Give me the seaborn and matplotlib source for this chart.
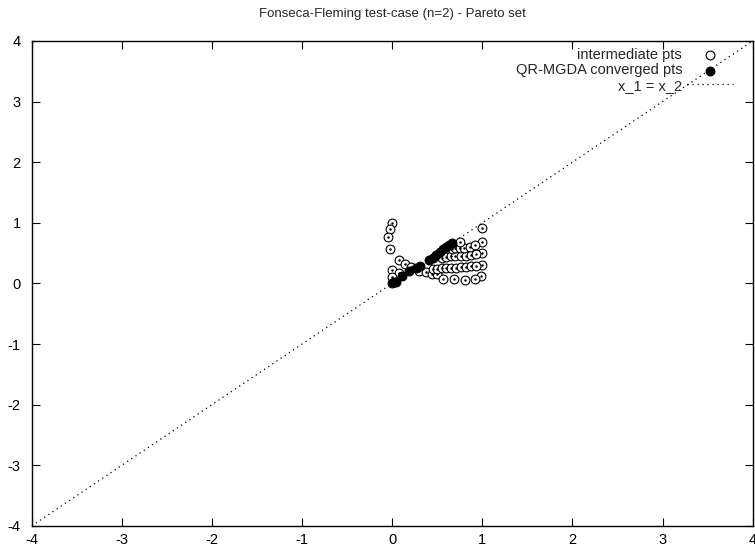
import matplotlib
matplotlib.use("Agg")
import matplotlib.pyplot as plt
import pandas as pd
import seaborn as sns

# intermediate points of the descent
inter_x = [0.00, -0.03, -0.05, -0.02, 0.07, 0.00, 0.14, 0.08, 0.00, 0.21, 0.30, 0.37, 0.44, 0.50,
           1.00, 1.00, 1.00, 1.00, 0.99,
           0.56, 0.69, 0.81, 0.92,
           0.45, 0.50, 0.55, 0.60, 0.65, 0.71, 0.76, 0.82, 0.87, 0.93,
           0.55, 0.60, 0.65, 0.70, 0.76, 0.82, 0.87, 0.93,
           0.66, 0.70, 0.75, 0.80, 0.86, 0.92,
           0.75]
inter_y = [1.00, 0.89, 0.77, 0.57, 0.38, 0.22, 0.32, 0.17, 0.10, 0.27, 0.21, 0.19, 0.16, 0.15,
           0.91, 0.69, 0.50, 0.30, 0.12,
           0.07, 0.07, 0.05, 0.08,
           0.23, 0.24, 0.25, 0.26, 0.26, 0.26, 0.27, 0.27, 0.28, 0.29,
           0.42, 0.44, 0.45, 0.45, 0.45, 0.46, 0.47, 0.48,
           0.57, 0.58, 0.58, 0.59, 0.60, 0.63,
           0.68]

# converged points (on the Pareto set x_1 = x_2)
conv_x = [0.00, 0.02, 0.04, 0.11, 0.19, 0.26, 0.31, 0.41, 0.45, 0.49, 0.53, 0.56, 0.60, 0.63, 0.66]
conv_y = [0.00, 0.03, 0.02, 0.12, 0.21, 0.26, 0.29, 0.38, 0.42, 0.47, 0.51, 0.56, 0.60, 0.63, 0.66]

line_x = [-4, 4]
line_y = [-4, 4]

ticks = [-4, -3, -2, -1, 0, 1, 2, 3, 4]

sns.set_style("ticks")
plt.rcParams['font.family'] = ['Liberation Sans', 'DejaVu Sans']
plt.rcParams['axes.unicode_minus'] = False

df_inter = pd.DataFrame({"x1": inter_x, "x2": inter_y})
df_conv = pd.DataFrame({"x1": conv_x, "x2": conv_y})
df_line = pd.DataFrame({"x1": line_x, "x2": line_y})

fig = plt.figure(figsize=(7.55, 5.53), dpi=100)
ax = fig.add_axes([0.042, 0.049, 0.955, 0.877])

sns.lineplot(data=df_line, x="x1", y="x2", ax=ax, color="black", lw=0.9,
             linestyle=(0, (1, 3)), label="x_1 = x_2", zorder=1)
sns.scatterplot(data=df_inter, x="x1", y="x2", ax=ax, marker="o", s=40,
                facecolor="white", edgecolor="black", linewidth=0.8,
                label="intermediate pts", zorder=2)
# the small centre dot that gnuplot puts in open circles
ax.scatter(inter_x, inter_y, s=0.6, color="black", zorder=3)
sns.scatterplot(data=df_conv, x="x1", y="x2", ax=ax, marker="o", s=40,
                color="black", edgecolor="black", linewidth=0.8,
                label="QR-MGDA converged pts", zorder=4)

ax.set_xlim(-4, 4)
ax.set_ylim(-4, 4)
ax.set_xticks(ticks)
ax.set_yticks(ticks)
ax.set_xlabel("")
ax.set_ylabel("")
ax.tick_params(direction="in", length=6, width=0.8, top=True, right=True,
               labelsize=10.5, colors="black")
ax.tick_params(axis="x", pad=5)
ax.tick_params(axis="y", pad=8)
for sp in ax.spines.values():
    sp.set_linewidth(1.0)
    sp.set_color("black")

ax.set_title("Fonseca-Fleming test-case (n=2) - Pareto set", fontsize=9.5, pad=17)

h, l = ax.get_legend_handles_labels()
order = [l.index("intermediate pts"), l.index("QR-MGDA converged pts"), l.index("x_1 = x_2")]
ax.legend([h[i] for i in order], [l[i] for i in order], loc="upper right",
          bbox_to_anchor=(0.972, 0.985), frameon=False, markerfirst=False,
          fontsize=10.5, handlelength=3.1, handletextpad=0.35, labelspacing=0.08,
          borderpad=0, borderaxespad=0)

fig.savefig("out.png", dpi=100)
